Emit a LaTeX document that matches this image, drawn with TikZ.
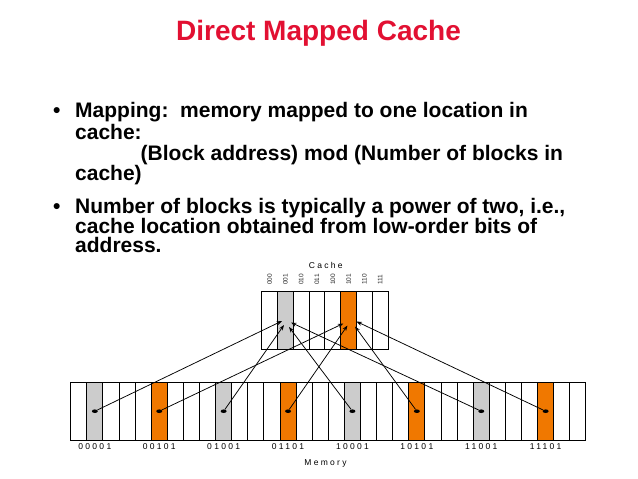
\documentclass[tikz,border=0pt]{standalone}
\usepackage{fontspec}
\setmainfont{Liberation Sans}
\newfontfamily\spacedfont[LetterSpace=27]{Liberation Sans}
\usetikzlibrary{arrows.meta,positioning,calc,shapes.geometric}
\definecolor{titlered}{RGB}{226,16,50}
\definecolor{slotorange}{RGB}{240,120,0}
\definecolor{slotgray}{RGB}{204,204,204}
\tikzset{
  >=Stealth,
  slot/.style={draw, line width=0.9pt, inner sep=0pt, minimum height=57.6pt},
  memslot/.style={slot, minimum width=16.1pt},
  cacheslot/.style={slot, minimum width=15.8pt},
  dot/.style={ellipse, fill=black, inner sep=0pt, minimum width=6pt, minimum height=3.6pt},
  link/.style={-{Stealth[length=5.5pt,width=4pt]}, line width=0.75pt},
  bodytxt/.style={anchor=base west, inner sep=0pt, font=\fontsize{21}{21}\selectfont\bfseries},
  bul/.style={anchor=base, inner sep=0pt, font=\fontsize{21}{21}\selectfont\bfseries},
  lbl/.style={inner sep=0pt, font=\fontsize{8.5}{8.5}\selectfont\spacedfont},
  idx/.style={inner sep=0pt, rotate=90, font=\fontsize{6.5}{6.5}\selectfont, text=black!85}
}
\begin{document}
\begin{tikzpicture}[x=1pt,y=-1pt]
  \useasboundingbox (0,0) rectangle (638,479);

  % === Title ===
  \node[anchor=base, inner sep=0pt, font=\fontsize{28}{28}\selectfont\bfseries, text=titlered]
    (title) at (318.5,40) {Direct Mapped Cache};

  % === Bullet text ===
  \node[bul] (b1) at (56.7,117.8) {\textbullet};
  \node[bodytxt] (t1) at (75,117.8) {Mapping:\ \ memory mapped to one location in};
  \node[bodytxt] (t2) at (75,139) {cache:};
  \node[bodytxt] (t3) at (140.5,160.3) {(Block address) mod (Number of blocks in};
  \node[bodytxt] (t4) at (75,180.3) {cache)};
  \node[bul] (b2) at (56.7,213.8) {\textbullet};
  \node[bodytxt] (t5) at (75,213.8) {Number of blocks is typically a power of two, i.e.,};
  \node[bodytxt] (t6) at (75,233.3) {cache location obtained from low-order bits of};
  \node[bodytxt] (t7) at (75,252.5) {address.};

  % === Cache: 8 blocks ===
  \node[lbl] (cachelbl) at (325.8,265.5) {Cache};
  \foreach \j/\b in {0/000,1/001,2/010,3/011,4/100,5/101,6/110,7/111} {
    \ifnum\j=1 \def\fc{slotgray}\else\ifnum\j=5 \def\fc{slotorange}\else\def\fc{white}\fi\fi
    \node[cacheslot, fill=\fc] (c\j) at ({261.7+(\j+0.5)*15.8},320.5) {};
    \node[idx] (ci\j) at ({261.7+(\j+0.5)*15.8},279.5) {\b};
  }

  % === Memory: 32 blocks ===
  \foreach \i in {0,...,31} {
    \pgfmathtruncatemacro\r{mod(\i,8)}
    \ifnum\r=1 \def\fc{slotgray}\else\ifnum\r=5 \def\fc{slotorange}\else\def\fc{white}\fi\fi
    \node[memslot, fill=\fc] (m\i) at ({70.7+(\i+0.5)*16.1},411.2) {};
  }
  \node[lbl, anchor=base] (memlbl) at (325.5,465) {Memory};

  % Mapping: (block address) mod 8
  \foreach \i/\b/\c/\dx/\dy in {1/00001/1/-3.4/0.5, 9/01001/1/-1.4/4.5,
      17/10001/1/3.6/6.5, 25/11001/1/5.6/2, 5/00101/5/-5.3/3,
      13/01101/5/-1.1/5, 21/10101/5/6.4/6, 29/11101/5/7.9/1} {
    \node[dot] (d\i) at (m\i.center) {};
    \node[lbl, below=3pt of m\i] (a\i) {\b};
    \coordinate (p\i) at ($(c\c.center)+(\dx,\dy)$);
    \draw[link] (d\i) -- (p\i);
  }
\end{tikzpicture}
\end{document}
